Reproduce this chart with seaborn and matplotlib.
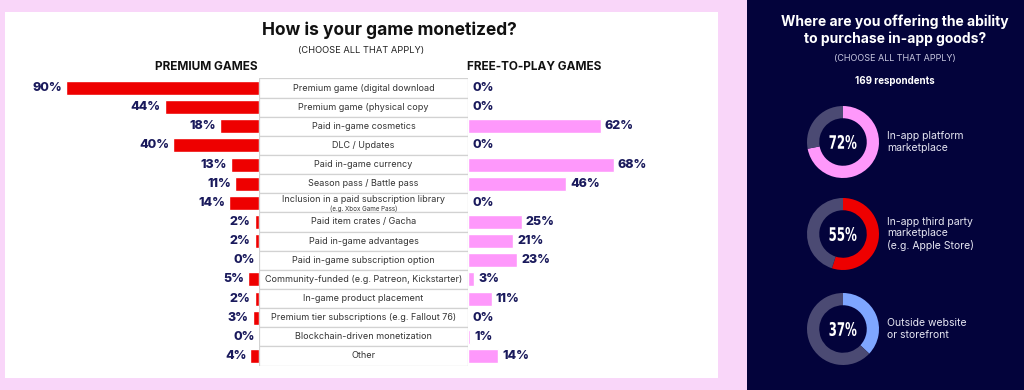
import numpy as np
import pandas as pd
import seaborn as sns
import matplotlib.pyplot as plt
from matplotlib.patches import Rectangle, PathPatch
from matplotlib.textpath import TextPath
from matplotlib.font_manager import FontProperties
from matplotlib.transforms import Affine2D

# data
categories = ["Premium game (digital download", "Premium game (physical copy",
              "Paid in-game cosmetics", "DLC / Updates", "Paid in-game currency",
              "Season pass / Battle pass", "Inclusion in a paid subscription library",
              "Paid item crates / Gacha", "Paid in-game advantages",
              "Paid in-game subscription option",
              "Community-funded (e.g. Patreon, Kickstarter)", "In-game product placement",
              "Premium tier subscriptions (e.g. Fallout 76)", "Blockchain-driven monetization",
              "Other"]
sublabels = ["", "", "", "", "", "", "(e.g. Xbox Game Pass)", "", "", "", "", "", "", "", ""]
premium = [90, 44, 18, 40, 13, 11, 14, 2, 2, 0, 5, 2, 3, 0, 4]
free_to_play = [0, 0, 62, 0, 68, 46, 0, 25, 21, 23, 3, 11, 0, 1, 14]

donut_labels = ["In-app platform\nmarketplace",
                "In-app third party\nmarketplace\n(e.g. Apple Store)",
                "Outside website\nor storefront"]
donut_values = [72, 55, 37]

PINK_BG = "#f9d6f9"
NAVY = "#1a1a5c"
DARK = "#03033b"
RED = "#ee0000"
PINK = "#fe98fb"
DONUT_COLORS = [PINK, RED, "#7fa6ff"]
DONUT_REST = "#4b4a73"

sns.set_style("white")
plt.rcParams['font.family'] = ['Inter', 'DejaVu Sans']

W, H = 1024, 390
fig = plt.figure(figsize=(W / 100, H / 100), dpi=100, facecolor=PINK_BG)


def fx(px):
    return px / W


def fy(py):
    return 1 - py / H


# panels
fig.patches.append(Rectangle((fx(5), fy(378)), fx(713), (378 - 12) / H,
                             transform=fig.transFigure, facecolor="white", edgecolor="none", zorder=-10))
fig.patches.append(Rectangle((fx(747), 0), fx(W - 747), 1,
                             transform=fig.transFigure, facecolor=DARK, edgecolor="none", zorder=-10))

df = pd.DataFrame({"category": categories, "premium": premium, "free": free_to_play})

# row geometry (pixels)
top_row, row_h = 88, 19.14
ax_top = top_row - row_h / 2
ax_h = row_h * len(categories)
scale = 2.14  # px per percent
ylims = (len(categories) - 0.5, -0.5)

mid_l, mid_r = 259, 468
axL = fig.add_axes([fx(mid_l - scale * 100), fy(ax_top + ax_h), fx(scale * 100), ax_h / H])
axM = fig.add_axes([fx(mid_l), fy(ax_top + ax_h), fx(mid_r - mid_l), ax_h / H])
axR = fig.add_axes([fx(mid_r), fy(ax_top + ax_h), fx(scale * 100), ax_h / H])

sns.barplot(data=df, x="premium", y="category", color=RED, saturation=1,
            width=0.73, orient="h", ax=axL)
sns.barplot(data=df, x="free", y="category", color=PINK, saturation=1,
            width=0.73, orient="h", ax=axR)

axL.set_xlim(100, 0)
axR.set_xlim(0, 100)
for ax in (axL, axM, axR):
    ax.set_ylim(*ylims)
    ax.axis("off")
    ax.patch.set_alpha(0)

for i, v in enumerate(premium):
    axL.annotate(f"{v}%", (v, i), xytext=(-3, 0), textcoords="offset points",
                 ha="right", va="center", fontsize=9, fontweight="heavy", color=NAVY)
for i, v in enumerate(free_to_play):
    axR.annotate(f"{v}%", (v, i), xytext=(3, 0), textcoords="offset points",
                 ha="left", va="center", fontsize=9, fontweight="heavy", color=NAVY)

axM.set_xlim(0, 1)
for i, (lab, sub) in enumerate(zip(categories, sublabels)):
    axM.add_patch(Rectangle((0, i - 0.5), 1, 1, facecolor="white",
                            edgecolor="#d2d2d2", lw=0.9))
    if sub:
        axM.text(0.5, i - 0.15, lab, ha="center", va="center", fontsize=6.5, color="#333333")
        axM.text(0.5, i + 0.3, sub, ha="center", va="center", fontsize=4.5, color="#333333")
    else:
        axM.text(0.5, i, lab, ha="center", va="center", fontsize=6.5, color="#333333")

# left titles
fig.text(fx(389), fy(30), "How is your game monetized?", ha="center", va="center",
         fontsize=12.5, fontweight="bold", color="#111111")
fig.text(fx(361), fy(50), "(CHOOSE ALL THAT APPLY)", ha="center", va="center",
         fontsize=6.7, color="#222222")
fig.text(fx(258), fy(67), "PREMIUM GAMES", ha="right", va="center",
         fontsize=8.5, fontweight="bold", color="#111111")
fig.text(fx(467), fy(67), "FREE-TO-PLAY GAMES", ha="left", va="center",
         fontsize=8.5, fontweight="bold", color="#111111")

# right panel
fig.text(fx(895), fy(30.5), "Where are you offering the ability\nto purchase in-app goods?",
         ha="center", va="center", fontsize=10, fontweight="bold", color="white",
         linespacing=1.2)
fig.text(fx(895), fy(59), "(CHOOSE ALL THAT APPLY)", ha="center", va="center",
         fontsize=6.5, color="#c8c8e0")
fig.text(fx(895), fy(81.5), "169 respondents", ha="center", va="center",
         fontsize=7, fontweight="bold", color="white")

# condensed look for the big numbers: squeeze a bold text path horizontally
num_font = FontProperties(family="DejaVu Sans", weight="bold")


def condensed_label(ax, s, width, height):
    tp = TextPath((0, 0), s, size=10, prop=num_font)
    ext = tp.get_extents()
    tr = (Affine2D()
          .translate(-(ext.x0 + ext.x1) / 2, -(ext.y0 + ext.y1) / 2)
          .scale(width / ext.width, height / ext.height))
    ax.add_patch(PathPatch(tr.transform_path(tp), facecolor="white", edgecolor="none"))


centers = [142, 234, 329]
R = 36
for cy, val, col, lab in zip(centers, donut_values, DONUT_COLORS, donut_labels):
    ax = fig.add_axes([fx(843 - R), fy(cy + R), fx(2 * R), 2 * R / H])
    ax.pie([val, 100 - val], colors=[col, DONUT_REST], startangle=90, counterclock=False,
           wedgeprops=dict(width=0.34, edgecolor="none"))
    ax.set_xlim(-1, 1)
    ax.set_ylim(-1, 1)
    ax.set_aspect("equal")
    condensed_label(ax, f"{val}%", 27 / R, 14 / R)
    fig.text(fx(887), fy(cy), lab, ha="left", va="center", fontsize=7.5,
             color="#e6e6f2", linespacing=1.15)

fig.savefig("out.png", dpi=100, facecolor=PINK_BG)
